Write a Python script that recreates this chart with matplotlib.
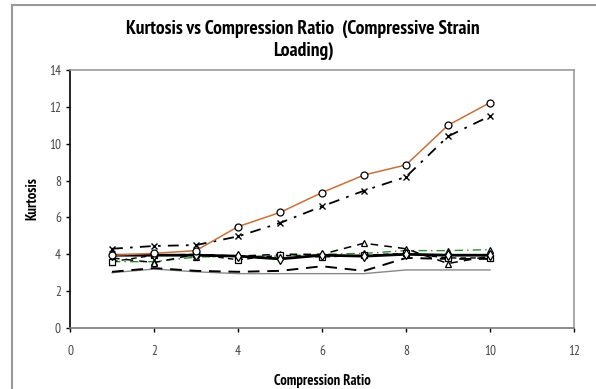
import matplotlib
matplotlib.use("Agg")
import matplotlib.pyplot as plt
from matplotlib.patches import Rectangle
from matplotlib import font_manager
import matplotlib.patheffects as pe

ratio = [1, 2, 3, 4, 5, 6, 7, 8, 9, 10]

s_orange = [3.95, 4.05, 4.2, 5.5, 6.27, 7.35, 8.3, 8.85, 11.0, 12.23]
s_cross = [4.3, 4.45, 4.5, 4.97, 5.7, 6.6, 7.45, 8.2, 10.4, 11.5]
s_solid = [3.95, 3.95, 3.95, 3.9, 3.75, 3.95, 3.9, 4.0, 3.95, 3.95]
s_square = [3.6, 3.95, 4.0, 3.7, 3.95, 3.85, 3.95, 4.05, 3.8, 3.8]
s_tri = [3.8, 3.55, 4.0, 3.9, 4.0, 4.0, 4.6, 4.3, 3.5, 3.9]
s_green = [3.6, 3.6, 3.85, 3.9, 3.9, 4.0, 4.05, 4.2, 4.2, 4.25]
s_dash = [3.05, 3.25, 3.1, 3.05, 3.1, 3.35, 3.1, 3.8, 3.75, 3.75]
s_gray = [3.0, 3.2, 3.05, 2.95, 2.95, 2.95, 2.95, 3.15, 3.15, 3.15]

title = "Kurtosis vs Compression Ratio  (Compressive Strain\nLoading)"
xlabel = "Compression Ratio"
ylabel = "Kurtosis"


def _w(v):
    if isinstance(v, str):
        return 700 if "bold" in v.lower() or "heavy" in v.lower() or "black" in v.lower() else 400
    return v


entries = font_manager.fontManager.ttflist
narrow_names = sorted({f.name for f in entries if "Narrow" in f.name}) + \
    sorted({f.name for f in entries if "Condensed" in f.name})
bold_narrow = [n for n in narrow_names
               if any(f.name == n and _w(f.weight) >= 600 for f in entries)]
fake_bold = False
if bold_narrow:
    fam = [bold_narrow[0], "DejaVu Sans"]
elif narrow_names:
    fam = [narrow_names[0], "DejaVu Sans"]
    fake_bold = True
else:
    fam = ["Liberation Sans", "DejaVu Sans"]

bold_fx = [pe.withStroke(linewidth=0.7, foreground="black")] if fake_bold else None

fig = plt.figure(figsize=(5.96, 3.89), dpi=100)
fig.patches.append(Rectangle((12 / 596, -0.05), 1.0, 0.05 + (389 - 5) / 389,
                             transform=fig.transFigure, fill=False,
                             edgecolor="#999999", linewidth=1.5))

ax = fig.add_axes([70 / 596, 1 - 328 / 389, (574 - 70) / 596, (328 - 70) / 389])

mk = dict(markerfacecolor="white", markeredgecolor="black", markersize=5, markeredgewidth=0.9)

ax.plot(ratio, s_gray, color="#888888", lw=1.0, ls="-")
ax.plot(ratio, s_dash, color="black", lw=1.4, ls=(0, (6, 4)))
ax.plot(ratio, s_green, color="#2e8b2e", lw=1.0, ls=(0, (6, 3, 1, 3)), marker="^", **mk)
ax.plot(ratio, s_tri, color="black", lw=1.1, ls=(0, (5, 4)), marker="^", **mk)
ax.plot(ratio, s_square, color="black", lw=1.0, ls=(0, (4, 3)), marker="s", **mk)
ax.plot(ratio, s_solid, color="black", lw=2.0, ls="-", marker="d", **mk)
ax.plot(ratio, s_cross, color="black", lw=1.3, ls=(0, (6, 4, 1.5, 4)), marker="x",
        markersize=5, markeredgecolor="black", markeredgewidth=1.0)
ax.plot(ratio, s_orange, color="#c8703c", lw=1.1, ls="-", marker="o", **mk)

ax.set_xlim(0, 12)
ax.set_ylim(0, 14)
ax.set_xticks(range(0, 13, 2))
ax.set_yticks(range(0, 15, 2))

for side in ("top", "right"):
    ax.spines[side].set_color("#999999")
    ax.spines[side].set_linewidth(1.2)
ax.spines["left"].set_color("black")
ax.spines["left"].set_linewidth(1.2)
ax.spines["bottom"].set_color("#777777")
ax.spines["bottom"].set_linewidth(1.2)

ax.tick_params(axis="both", direction="out", length=3, width=1, colors="black",
               labelcolor="#444444", labelsize=9.5)
for lab in ax.get_xticklabels() + ax.get_yticklabels():
    lab.set_family(fam)
ax.tick_params(axis="x", pad=9)

xl = ax.set_xlabel(xlabel, family=fam, fontweight="bold", fontsize=10.5, labelpad=12)
yl = ax.set_ylabel(ylabel, family=fam, fontweight="bold", fontsize=10.5, labelpad=7)
ttl = fig.text(303 / 596, 1 - 40 / 389, title, family=fam, fontweight="bold",
               fontsize=11, ha="center", va="center", linespacing=1.25)
if bold_fx:
    for t in (xl, yl, ttl):
        t.set_path_effects(bold_fx)

# fit the title to the reference width (about 350 px)
fig.canvas.draw()
w = ttl.get_window_extent().width
if w > 0:
    ttl.set_fontsize(11 * 350.0 / w)

fig.savefig("out.png", dpi=100)
